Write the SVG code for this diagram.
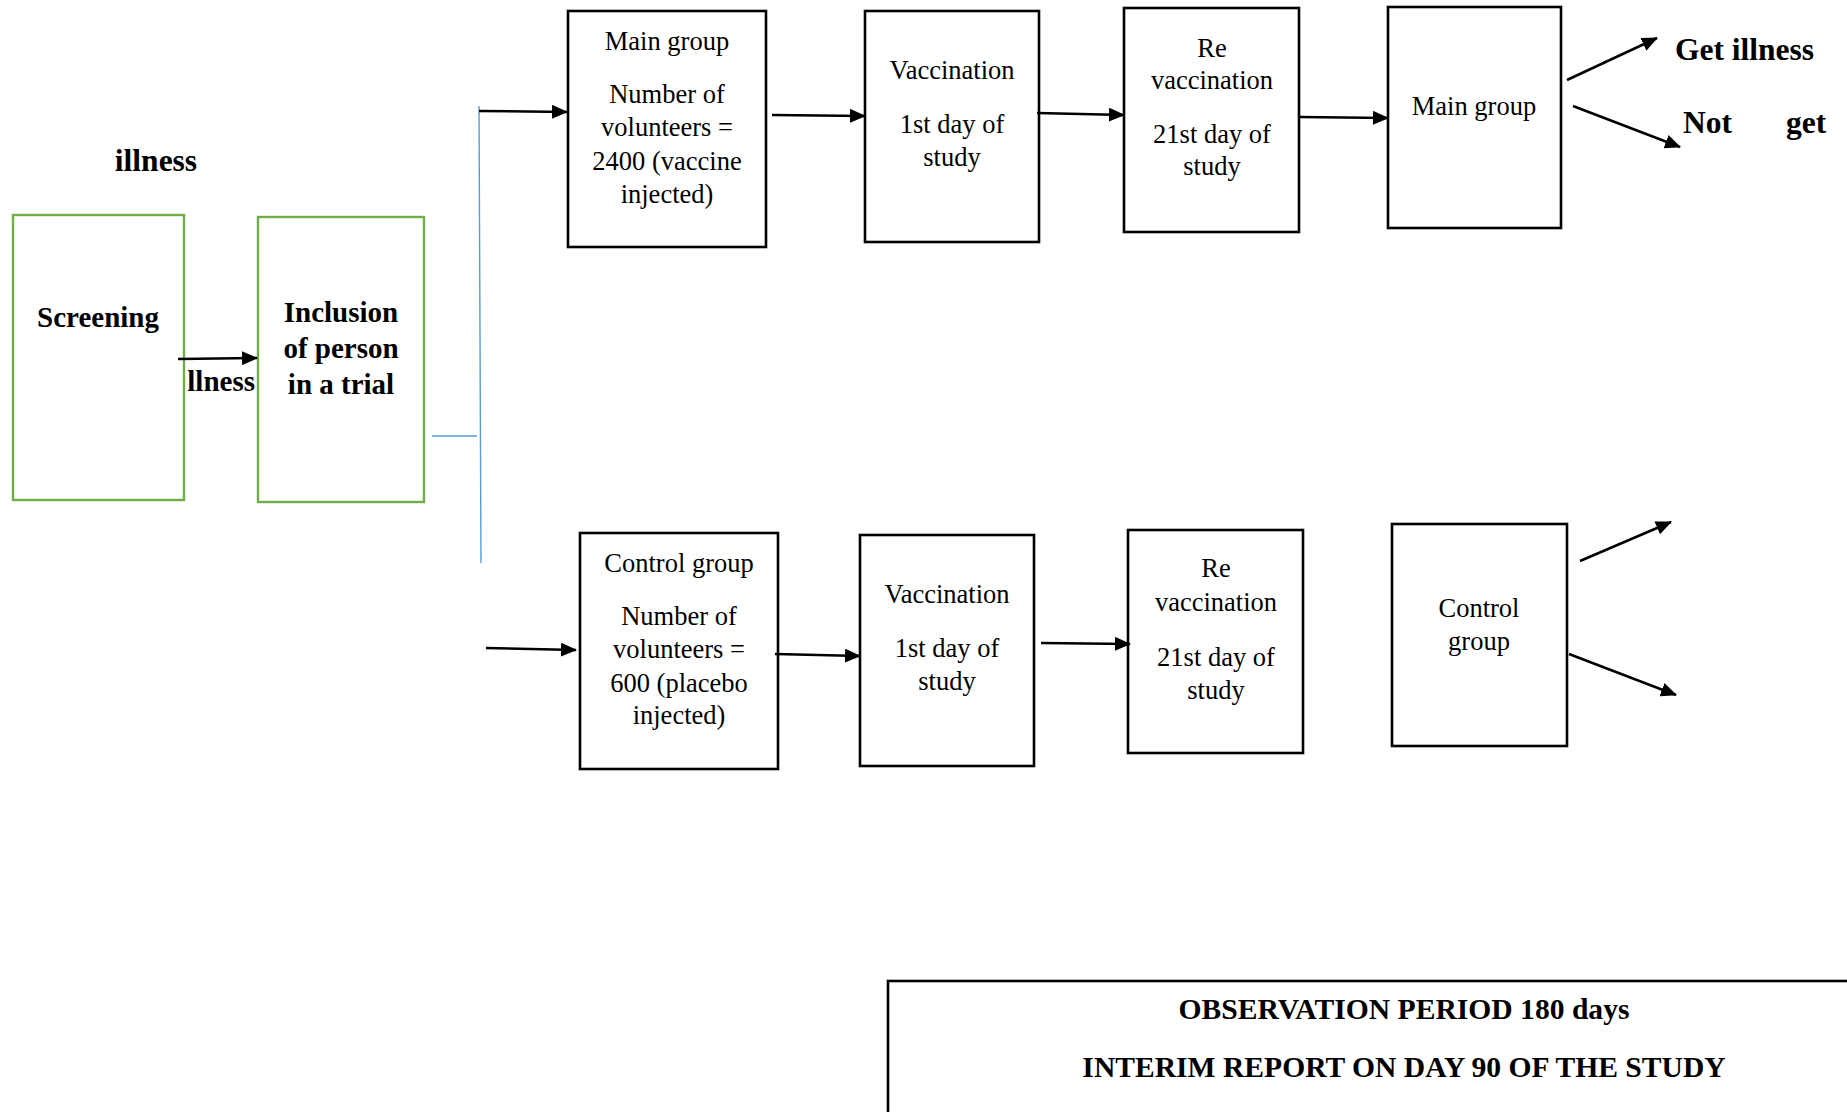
<svg xmlns="http://www.w3.org/2000/svg" width="1847" height="1112" viewBox="0 0 1847 1112">
<style>
.bx{fill:#fff;stroke:#000;stroke-width:2.6}
.gb{fill:#fff;stroke:#70AD47;stroke-width:2.4}
.t{font-family:"Liberation Serif","Times New Roman",serif;font-size:26.5px;fill:#000;text-anchor:middle}
.b{font-family:"Liberation Serif","Times New Roman",serif;font-size:29px;font-weight:bold;fill:#000;text-anchor:middle}
.c{stroke:#000;stroke-width:2.5;fill:none;marker-end:url(#ah)}
.bl{stroke:#5B9BD5;stroke-width:1.4;fill:none}
</style>
<defs>
<marker id="ah" markerWidth="16" markerHeight="14" refX="15" refY="7" orient="auto" markerUnits="userSpaceOnUse"><path d="M0,0 L16,7 L0,14 z" fill="#000"/></marker>
</defs>
<rect width="1847" height="1112" fill="#fff"/>
<g id="label-illness-top"><text class="b" x="156" y="171" style="font-size:31.5px">illness</text></g>
<g id="screening"><rect class="gb" x="13" y="215" width="171" height="285"/><text class="b" x="98" y="327">Screening</text></g>
<g id="label-illness-mid"><text class="b" x="255" y="391" style="text-anchor:end">llness</text></g>
<g id="inclusion"><rect class="gb" x="258" y="217" width="166" height="285"/><text class="b" x="341" y="322">Inclusion</text><text class="b" x="341" y="358">of person</text><text class="b" x="341" y="394">in a trial</text></g>
<g id="main-group"><rect class="bx" x="568" y="11" width="198" height="236"/><text class="t" x="667" y="50">Main group</text><text class="t" x="667" y="103">Number of</text><text class="t" x="667" y="136">volunteers =</text><text class="t" x="667" y="170">2400 (vaccine</text><text class="t" x="667" y="203">injected)</text></g>
<g id="vacc-main"><rect class="bx" x="865" y="11" width="174" height="231"/><text class="t" x="952" y="79">Vaccination</text><text class="t" x="952" y="133">1st day of</text><text class="t" x="952" y="166">study</text></g>
<g id="revacc-main"><rect class="bx" x="1124" y="8" width="175" height="224"/><text class="t" x="1212" y="57">Re</text><text class="t" x="1212" y="89">vaccination</text><text class="t" x="1212" y="143">21st day of</text><text class="t" x="1212" y="175">study</text></g>
<g id="main-group-2"><rect class="bx" x="1388" y="7" width="173" height="221"/><text class="t" x="1474" y="115">Main group</text></g>
<g id="outcome-get"><text class="b" x="1675" y="60" style="font-size:31.5px;text-anchor:start">Get illness</text></g>
<g id="outcome-not"><text class="b" x="1683" y="133" style="font-size:31.5px;text-anchor:start">Not</text><text class="b" x="1786" y="133" style="font-size:31.5px;text-anchor:start">get</text></g>
<g id="control-group"><rect class="bx" x="580" y="533" width="198" height="236"/><text class="t" x="679" y="572">Control group</text><text class="t" x="679" y="625">Number of</text><text class="t" x="679" y="658">volunteers =</text><text class="t" x="679" y="692">600 (placebo</text><text class="t" x="679" y="724">injected)</text></g>
<g id="vacc-control"><rect class="bx" x="860" y="535" width="174" height="231"/><text class="t" x="947" y="603">Vaccination</text><text class="t" x="947" y="657">1st day of</text><text class="t" x="947" y="690">study</text></g>
<g id="revacc-control"><rect class="bx" x="1128" y="530" width="175" height="223"/><text class="t" x="1216" y="577">Re</text><text class="t" x="1216" y="611">vaccination</text><text class="t" x="1216" y="666">21st day of</text><text class="t" x="1216" y="699">study</text></g>
<g id="control-group-2"><rect class="bx" x="1392" y="524" width="175" height="222"/><text class="t" x="1479" y="617">Control</text><text class="t" x="1479" y="650">group</text></g>
<g id="observation"><rect class="bx" x="888" y="981" width="1000" height="200"/><text class="b" x="1404" y="1019" style="font-size:29.6px">OBSERVATION PERIOD 180 days</text><text class="b" x="1404" y="1077" style="font-size:29.6px">INTERIM REPORT ON DAY 90 OF THE STUDY</text></g>
<g id="connectors">
<line class="c" x1="178" y1="359" x2="257" y2="358"/>
<line class="bl" x1="479" y1="106" x2="481" y2="563"/>
<line class="bl" x1="432" y1="436" x2="477" y2="436"/>
<line class="c" x1="479" y1="111" x2="567" y2="112"/>
<line class="c" x1="772" y1="115" x2="865" y2="116"/>
<line class="c" x1="1037" y1="113" x2="1124" y2="115"/>
<line class="c" x1="1299" y1="117" x2="1388" y2="118"/>
<line class="c" x1="1567" y1="80" x2="1657" y2="38"/>
<line class="c" x1="1573" y1="106" x2="1680" y2="147"/>
<line class="c" x1="486" y1="648" x2="576" y2="650"/>
<line class="c" x1="775" y1="654" x2="860" y2="656"/>
<line class="c" x1="1041" y1="643" x2="1130" y2="644"/>
<line class="c" x1="1580" y1="561" x2="1671" y2="522"/>
<line class="c" x1="1569" y1="654" x2="1676" y2="695"/>
</g>
</svg>
